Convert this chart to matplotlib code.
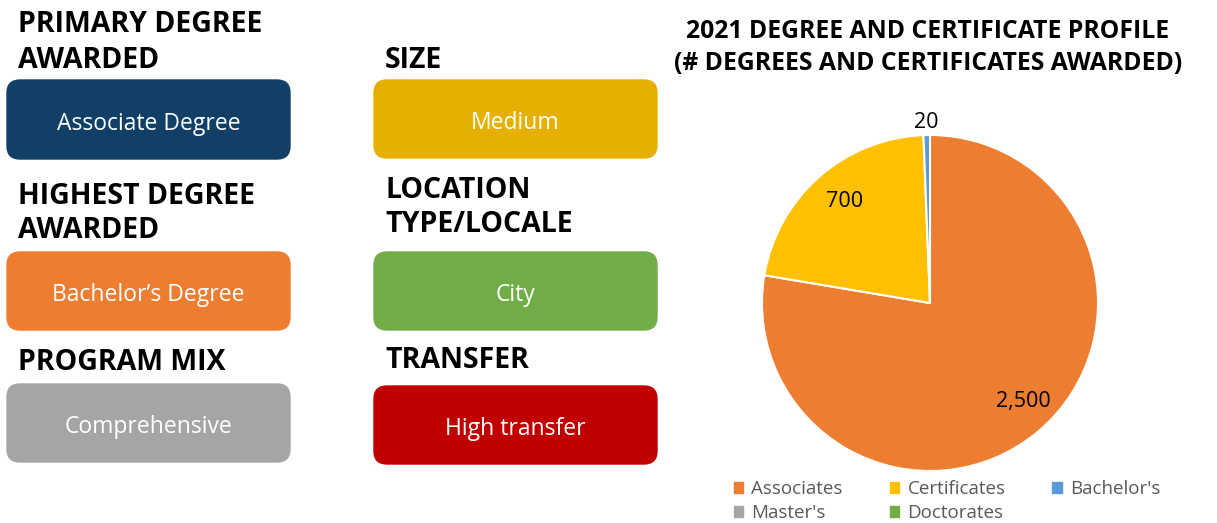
import matplotlib
matplotlib.use("Agg")
import matplotlib.pyplot as plt
from matplotlib.patches import FancyBboxPatch, Patch
import numpy as np

# ---- data ----
categories = ["Associates", "Certificates", "Bachelor's", "Master's", "Doctorates"]
values = [2500, 700, 20, 0, 0]
value_labels = ["2,500", "700", "20", "", ""]
slice_colors = ["#ED7D31", "#FFC000", "#5B9BD5", "#A5A5A5", "#70AD47"]

headings = [["PRIMARY DEGREE", "AWARDED"], ["HIGHEST DEGREE", "AWARDED"], ["PROGRAM MIX"],
            ["SIZE"], ["LOCATION", "TYPE/LOCALE"], ["TRANSFER"]]
box_texts = ["Associate Degree", "Bachelor\u2019s Degree", "Comprehensive",
             "Medium", "City", "High transfer"]
box_colors = ["#123F66", "#ED7D31", "#A5A5A5", "#E6B000", "#70AD47", "#C00000"]

title_lines = ["2021 DEGREE AND CERTIFICATE PROFILE", "(# DEGREES AND CERTIFICATES AWARDED)"]

# ---- layout (pixels) ----
W, H = 1217, 523
fig = plt.figure(figsize=(W / 100, H / 100), dpi=100)
bg = fig.add_axes([0, 0, 1, 1])
bg.set_xlim(0, W)
bg.set_ylim(H, 0)
bg.axis("off")

FONT = "Open Sans"
# (x_left, heading line y's, box top, box bottom)
cells = [
    (7, [22, 57], 80, 159),
    (7, [193, 228], 252, 330),
    (7, [360], 384, 462),
    (374, [57], 80, 158),
    (374, [188, 222], 252, 330),
    (374, [358], 386, 464),
]
box_w = 283
for (x0, hy, top, bot), lines, txt, col in zip(cells, headings, box_texts, box_colors):
    for y, line in zip(hy, lines):
        bg.text(x0 + 11, y + 3, line, fontsize=20.5, fontweight="bold", family=FONT,
                color="black", ha="left", va="center")
    p = FancyBboxPatch((x0, top), box_w, bot - top,
                       boxstyle="round,pad=0,rounding_size=13",
                       facecolor=col, edgecolor=col, linewidth=1)
    bg.add_patch(p)
    bg.text(x0 + box_w / 2, (top + bot) / 2 + 4, txt, fontsize=16.5, family=FONT,
            color="white", ha="center", va="center")

# title
for y, line in zip([32, 64], title_lines):
    bg.text(928, y, line, fontsize=17.8, fontweight="bold", family=FONT,
            color="black", ha="center", va="center")

# ---- pie ----
cx, cy, r = 930, 303, 168
pax = fig.add_axes([(cx - r) / W, (H - cy - r) / H, 2 * r / W, 2 * r / H])
draw_idx = [i for i, v in enumerate(values) if v > 0]
wedges, _ = pax.pie([values[i] for i in draw_idx],
                    colors=[slice_colors[i] for i in draw_idx],
                    startangle=90, counterclock=False, radius=1,
                    wedgeprops=dict(edgecolor="white", linewidth=1.5))
pax.set_xlim(-1, 1)
pax.set_ylim(-1, 1)
pax.set_aspect("equal")
pax.axis("off")

label_dist = {0: 0.80, 1: 0.80, 2: 1.09}
label_turn = {0: 4.0, 1: -2.0, 2: 0.0}
for w, i in zip(wedges, draw_idx):
    ang = np.deg2rad((w.theta1 + w.theta2) / 2 + label_turn[i])
    d = label_dist[i]
    pax.text(d * np.cos(ang), d * np.sin(ang) - 0.015, value_labels[i], fontsize=15.5,
             family=FONT, color="black", ha="center", va="center", clip_on=False)

# ---- legend (row-wise order: matplotlib fills column-wise) ----
order = [0, 3, 1, 4, 2]
handles = [Patch(facecolor=slice_colors[i], edgecolor=slice_colors[i]) for i in order]
labels = [categories[i] for i in order]
leg = fig.legend(handles, labels, loc="center", bbox_to_anchor=(947 / W, 1 - 501 / H),
                 ncol=3, frameon=False, handlelength=0.5, handleheight=0.5,
                 handletextpad=0.45, columnspacing=2.5, labelspacing=0.3,
                 prop={"family": FONT, "size": 13.5})
for t in leg.get_texts():
    t.set_color("#595959")

fig.savefig("out.png", dpi=100)
